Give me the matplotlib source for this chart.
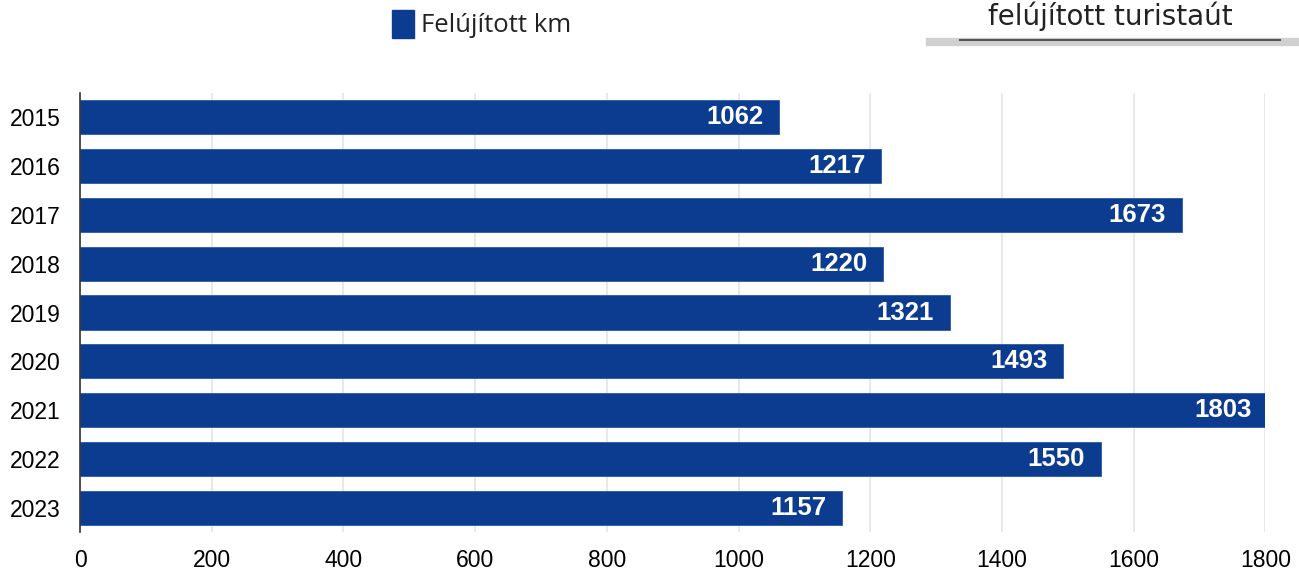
import matplotlib.pyplot as plt
from matplotlib.patches import Rectangle

# ---- adatok ----
years = ['2015', '2016', '2017', '2018', '2019', '2020', '2021', '2022', '2023']
km = [1062, 1217, 1673, 1220, 1321, 1493, 1803, 1550, 1157]
xticks = [0, 200, 400, 600, 800, 1000, 1200, 1400, 1600, 1800]

bar_color = '#0b3c90'
plt.rcParams['font.family'] = ['Liberation Sans', 'DejaVu Sans']

fig = plt.figure(figsize=(12.99, 5.73), dpi=100)
ax = fig.add_axes([0.0616, 0.071, 0.9125, 0.767])

pos = list(range(len(years)))
bars = ax.barh(pos, km, height=0.7, color=bar_color, edgecolor='#2a5aa8', linewidth=0.6, zorder=3)

# értékek a sávok végén, fehér félkövér
for b, v in zip(bars, km):
    ax.text(v - 24, b.get_y() + b.get_height() / 2, str(v), color='white',
            fontsize=18.5, fontweight='bold', ha='right', va='center', zorder=4)

ax.set_xlim(0, 1800)
ax.set_ylim(8.5, -0.5)
ax.set_yticks(pos)
ax.set_yticklabels(years, fontsize=16.5)
ax.set_xticks(xticks)
ax.set_xticklabels([str(t) for t in xticks], fontsize=16.5)
ax.tick_params(length=0)
ax.tick_params(axis='y', pad=14)
ax.tick_params(axis='x', pad=12)
ax.grid(axis='x', color='#e4e4e4', linewidth=1.2, zorder=0)
for s in ['top', 'right', 'bottom']:
    ax.spines[s].set_visible(False)
ax.spines['left'].set_color('#333333')
ax.spines['left'].set_linewidth(1.2)
ax.spines['left'].set_zorder(5)

# jelmagyarázat felül
fig.patches.append(Rectangle((392 / 1299, 1 - 38 / 573), 22 / 1299, 28 / 573,
                             transform=fig.transFigure, color=bar_color))
fig.text(421 / 1299, 1 - 25 / 573, 'Felújított km', fontsize=18.5, color='#222222',
         family=['Open Sans', 'DejaVu Sans'], va='center', ha='left')

# cím doboz jobb felül
fig.text(1110 / 1299, 1 - 25 / 573, 'felújított turistaút', fontsize=20, color='#222222',
         family=['DejaVu Sans'], va='baseline', ha='center')
fig.add_artist(plt.Line2D([930 / 1299, 1], [1 - 42 / 573, 1 - 42 / 573],
                          transform=fig.transFigure, color='#d0d0d0', linewidth=6))
fig.add_artist(plt.Line2D([960 / 1299, 1280 / 1299], [1 - 40 / 573, 1 - 40 / 573],
                          transform=fig.transFigure, color='#555555', linewidth=1.5))

fig.savefig('out.png', dpi=100)
